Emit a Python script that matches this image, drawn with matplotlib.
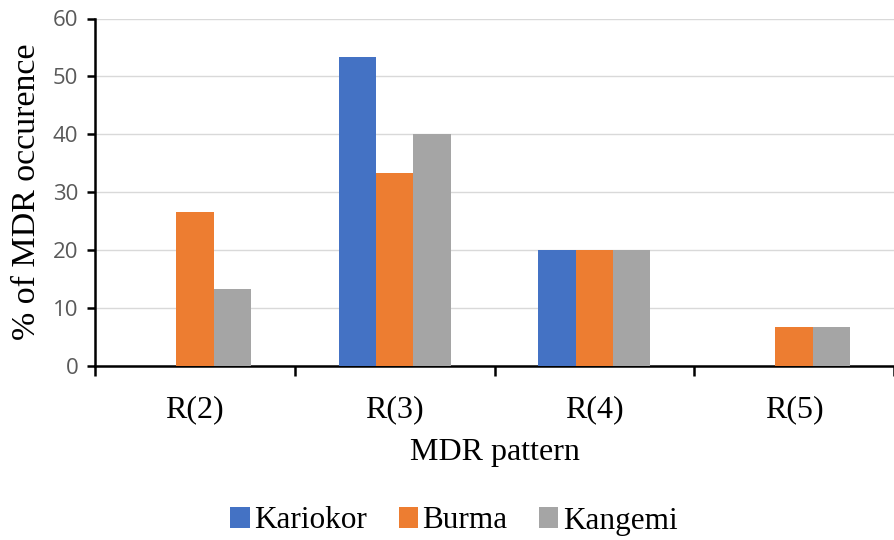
import matplotlib
matplotlib.use("Agg")
import matplotlib.pyplot as plt
import numpy as np

categories = ["R(2)", "R(3)", "R(4)", "R(5)"]
series_names = ["Kariokor", "Burma", "Kangemi"]
kariokor = [0, 53.33, 20, 0]
burma = [26.67, 33.33, 20, 6.67]
kangemi = [13.33, 40, 20, 6.67]
colors = ["#4472C4", "#ED7D31", "#A5A5A5"]

W, H = 894, 540
fig = plt.figure(figsize=(W / 100, H / 100), dpi=100)
left_px, right_px, top_px, bottom_px = 95, 894, 18.5, 366
ax = fig.add_axes([left_px / W, 1 - bottom_px / H,
                   (right_px - left_px) / W, (bottom_px - top_px) / H])

serif = ["Liberation Serif", "DejaVu Serif"]
sans = ["Open Sans", "DejaVu Sans"]

x = np.arange(len(categories))
bw = 0.187
for i, (vals, name) in enumerate(zip([kariokor, burma, kangemi], series_names)):
    ax.bar(x + (i - 1) * bw, vals, bw, color=colors[i], label=name, zorder=3)

cat_px = 201.7
ax.set_xlim(-0.5, -0.5 + (right_px - left_px) / cat_px)
ax.set_ylim(0, 60)
ax.set_yticks(range(0, 61, 10))
ax.yaxis.grid(True, color="#D9D9D9", linewidth=1.0, zorder=0)
ax.set_axisbelow(True)

for s in ["top", "right"]:
    ax.spines[s].set_visible(False)
for s in ["left", "bottom"]:
    ax.spines[s].set_linewidth(1.8)
    ax.spines[s].set_color("black")

ax.set_xticks(x)
ax.set_xticklabels(categories, fontfamily=serif, fontsize=23)
ax.tick_params(axis="x", length=0, pad=21)
ax.set_xticks(np.arange(-0.5, 3.6, 1.0), minor=True)
ax.tick_params(axis="x", which="minor", length=7, width=1.8, color="black", direction="out")
ax.tick_params(axis="y", length=6, width=1.8, color="black", labelcolor="#595959",
               labelsize=16, pad=6)
for lbl in ax.get_yticklabels():
    lbl.set_fontfamily(sans)

ax.set_xlabel("MDR pattern", fontfamily=serif, fontsize=23, labelpad=10)
ax.set_ylabel("% of MDR occurence", fontfamily=serif, fontsize=24.5, labelpad=8)

handles, labels = ax.get_legend_handles_labels()
leg = fig.legend(handles, labels, loc="center", bbox_to_anchor=(454 / W, 1 - 521 / H),
                 ncol=3, frameon=False, prop={"family": serif, "size": 22.5},
                 handlelength=0.62, handleheight=0.62, handletextpad=0.15,
                 columnspacing=1.0, borderpad=0)

fig.savefig("out.png", dpi=100)
